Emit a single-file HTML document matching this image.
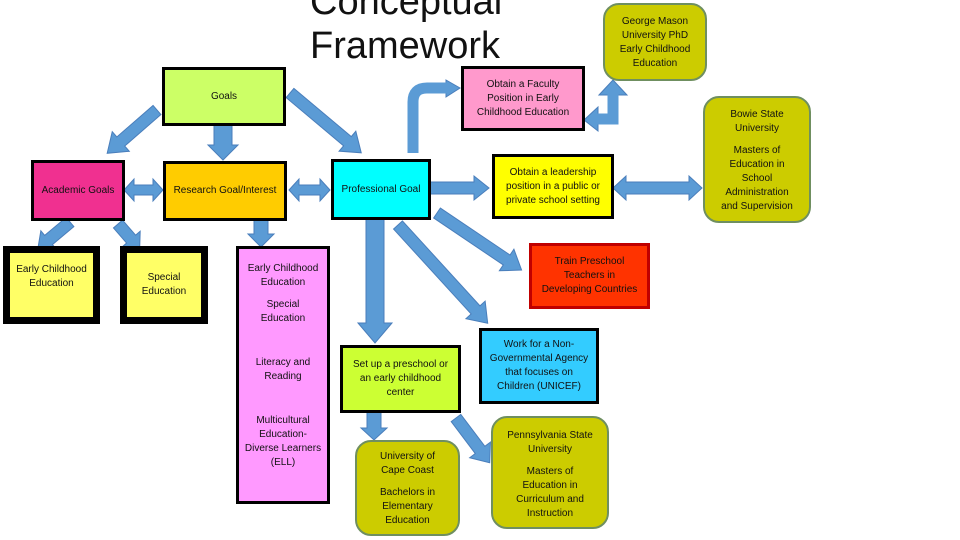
<!DOCTYPE html>
<html><head><meta charset="utf-8"><style>
body{margin:0;width:960px;height:540px;overflow:hidden;background:#fff;position:relative;font-family:"Liberation Sans",sans-serif;}
.b{position:absolute;box-sizing:border-box;border:3px solid #000;display:flex;flex-direction:column;align-items:center;justify-content:center;text-align:center;font-size:10px;line-height:14px;color:#111;}
.r{border:2px solid #6f8f60;border-radius:16px;background:#cccc00;justify-content:flex-start;padding-top:6px}
.t{position:absolute;left:310px;top:-20px;font-size:38px;line-height:44px;color:#111;}
svg{position:absolute;left:0;top:0}
p{margin:0}
</style></head><body>
<div class="t">Conceptual<br>Framework</div>
<svg width="960" height="540">
<g fill="#5b9bd5" stroke="#4a7ebb" stroke-width="1">
<!-- generic arrow along +x: 0,-s L-h,-s L-h,-H L,0 L-h,H L-h,s 0,s -->
<polygon transform="translate(157,110) rotate(139)" points="0,-6 48,-6 48,-13 66,0 48,13 48,6 0,6"/>
<polygon transform="translate(223,125) rotate(90)" points="0,-9 20,-9 20,-15 35,0 20,15 20,9 0,9"/>
<polygon transform="translate(290,93) rotate(40)" points="0,-6 75,-6 75,-13 93,0 75,13 75,6 0,6"/>
<polygon points="124,190 134,179 134,185 153,185 153,179 163,190 153,201 153,195 134,195 134,201"/>
<polygon points="289,190 299,179 299,185 320,185 320,179 330,190 320,201 320,195 299,195 299,201"/>
<polygon transform="translate(70,222) rotate(140)" points="0,-6 28,-6 28,-12 42,0 28,12 28,6 0,6"/>
<polygon transform="translate(118,224) rotate(49)" points="0,-6 20,-6 20,-12 33,0 20,12 20,6 0,6"/>
<polygon transform="translate(261,220) rotate(90)" points="0,-7 14,-7 14,-13 27,0 14,13 14,7 0,7"/>
<polygon points="430,182 474,182 474,176 489,188 474,200 474,194 430,194"/>
<polygon points="613,188 626,176 626,182 689,182 689,176 702,188 689,200 689,194 626,194 626,200"/>
<polygon transform="translate(437,213) rotate(34)" points="0,-6 84,-6 84,-13 102,0 84,13 84,6 0,6"/>
<polygon transform="translate(398,225) rotate(47.6)" points="0,-6 115,-6 115,-13 133,0 115,13 115,6 0,6"/>
<polygon transform="translate(375,219) rotate(90)" points="0,-9 104,-9 104,-17 124,0 104,17 104,9 0,9"/>
<polygon transform="translate(374,412) rotate(90)" points="0,-7 16,-7 16,-13 28,0 16,13 16,7 0,7"/>
<polygon transform="translate(456,418) rotate(53)" points="0,-6 40,-6 40,-13 56,0 40,13 40,6 0,6"/>
<polygon points="446,80 460,88 446,97"/>
<polygon points="584,120 598,107 598,131"/>
<polygon points="599,95 613,80 627,95"/>
</g>
<g fill="none" stroke="#5b9bd5" stroke-width="11">
<path d="M413,153 V102 Q413,88 427,88 H447"/>
<path d="M597,119 H613 V94"/>
</g>
</svg>
<div class="b" style="left:162px;top:67px;width:124px;height:59px;background:#ccff66">Goals</div>
<div class="b" style="left:31px;top:160px;width:94px;height:61px;background:#f03090">Academic Goals</div>
<div class="b" style="left:163px;top:161px;width:124px;height:60px;background:#ffcc00">Research Goal/Interest</div>
<div class="b" style="left:331px;top:159px;width:100px;height:61px;background:#00ffff">Professional Goal</div>
<div class="b" style="left:3px;top:246px;width:97px;height:78px;background:#ffff66;border-width:7px;justify-content:flex-start;padding-top:10px">Early Childhood<br>Education</div>
<div class="b" style="left:120px;top:246px;width:88px;height:78px;background:#ffff66;border-width:7px">Special<br>Education</div>
<div class="b" style="left:236px;top:246px;width:94px;height:258px;background:#ff99ff;justify-content:flex-start;padding-top:13px">
<p>Early Childhood<br>Education</p><p style="margin-top:8px">Special<br>Education</p><p style="margin-top:30px">Literacy and<br>Reading</p><p style="margin-top:30px">Multicultural<br>Education-<br>Diverse Learners<br>(ELL)</p></div>
<div class="b" style="left:461px;top:66px;width:124px;height:65px;background:#ff99cc">Obtain a Faculty<br>Position in Early<br>Childhood Education</div>
<div class="b" style="left:492px;top:154px;width:122px;height:65px;background:#ffff00">Obtain a leadership<br>position in a public or<br>private school setting</div>
<div class="b" style="left:529px;top:243px;width:121px;height:66px;background:#ff3300;border-color:#c00000">Train Preschool<br>Teachers in<br>Developing Countries</div>
<div class="b" style="left:479px;top:328px;width:120px;height:76px;background:#33ccff">Work for a Non-<br>Governmental Agency<br>that focuses on<br>Children (UNICEF)</div>
<div class="b" style="left:340px;top:345px;width:121px;height:68px;background:#ccff33">Set up a preschool or<br>an early childhood<br>center</div>
<div class="b r" style="left:603px;top:3px;width:104px;height:78px;padding-top:10px">George Mason<br>University PhD<br>Early Childhood<br>Education</div>
<div class="b r" style="left:703px;top:96px;width:108px;height:127px;padding-top:10px"><p>Bowie State<br>University</p><p style="margin-top:8px">Masters of<br>Education in<br>School<br>Administration<br>and Supervision</p></div>
<div class="b r" style="left:355px;top:440px;width:105px;height:96px;padding-top:8px"><p>University of<br>Cape Coast</p><p style="margin-top:8px">Bachelors in<br>Elementary<br>Education</p></div>
<div class="b r" style="left:491px;top:416px;width:118px;height:113px;padding-top:11px"><p>Pennsylvania State<br>University</p><p style="margin-top:8px">Masters of<br>Education in<br>Curriculum and<br>Instruction</p></div>
</body></html>
